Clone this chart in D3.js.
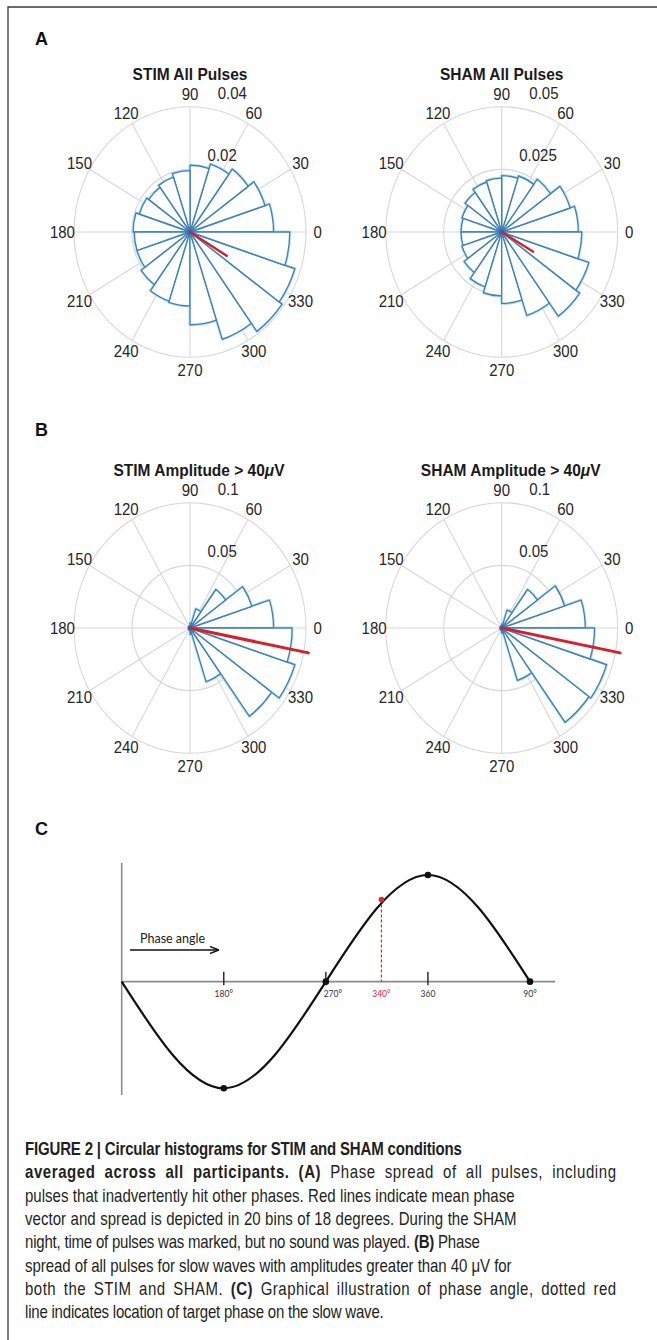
<!DOCTYPE html>
<html>
<head>
<meta charset="utf-8">
<script src="https://cdn.jsdelivr.net/npm/d3@7"></script>
<style>
  html, body { margin: 0; padding: 0; background: #fff; }
  svg { display: block; }
</style>
</head>
<body>
<div class="figure"></div>
<script>
// probability per bin, 20 bins of 18 deg, bin i covers [18*i, 18*(i+1)) ccw from 0
const binWidth = 18;
const stimAll = [0.0288, 0.0272, 0.0248, 0.0228, 0.0213, 0.0196, 0.0184, 0.0176, 0.0184, 0.0196,
                 0.0192, 0.0192, 0.0208, 0.0232, 0.0236, 0.0296, 0.0360, 0.0392, 0.0380, 0.0344];
const shamAll = [0.0330, 0.0310, 0.0260, 0.0235, 0.0225, 0.0215, 0.0210, 0.0195, 0.0180, 0.0175,
                 0.0175, 0.0180, 0.0200, 0.0230, 0.0255, 0.0285, 0.0350, 0.0415, 0.0395, 0.0345];
const stimAmp = [0.072, 0.056, 0.038, 0.016, 0.004, 0, 0, 0, 0, 0,
                 0, 0, 0, 0.001, 0.002, 0.005, 0.045, 0.087, 0.095, 0.088];
const shamAmp = [0.072, 0.057, 0.038, 0.015, 0.003, 0, 0, 0, 0, 0,
                 0, 0, 0, 0.001, 0.002, 0.004, 0.044, 0.093, 0.095, 0.080];

// mean phase vector: [angle in deg, length]
const stimAllMean = [329, 0.0148];
const shamAllMean = [330, 0.0157];
const stimAmpMean = [349, 0.104];
const shamAmpMean = [349, 0.104];

// radial ticks (last one is the outer ring)
const stimAllTicks = [0.02, 0.04];
const shamAllTicks = [0.025, 0.05];
const ampTicks = [0.05, 0.1];
const thetaTicks = [0, 30, 60, 90, 120, 150, 180, 210, 240, 270, 300, 330];

// panel C: slow wave key points (phase in deg, relative amplitude)
const wavePhase = [90, 180, 270, 360, 450];
const waveAmp = [0, -1, 0, 1, 0];
const waveDots = [1, 2, 3, 4];
const phaseTicks = [180, 270, 360];
const phaseLabels = ['180°', '270°', '360', '90°'];
const phaseLabelPos = [180, 270, 360, 450];
const targetLabel = '340°';
const targetPhase = 319, targetAmp = 0.77;

const captionLines = [
  [['FIGURE 2 | Circular histograms for STIM and SHAM conditions', true]],
  [['averaged across all participants. (A)', true], [' Phase spread of all pulses, including', false]],
  [['pulses that inadvertently hit other phases. Red lines indicate mean phase', false]],
  [['vector and spread is depicted in 20 bins of 18 degrees. During the SHAM', false]],
  [['night, time of pulses was marked, but no sound was played. ', false], ['(B)', true], [' Phase', false]],
  [['spread of all pulses for slow waves with amplitudes greater than 40 \u03BCV for', false]],
  [['both the STIM and SHAM. ', false], ['(C)', true], [' Graphical illustration of phase angle, dotted red', false]],
  [['line indicates location of target phase on the slow wave.', false]]
];
const captionWidths = [437, 592, 490, 492, 447, 487, 592, 308];

(function() {
  'use strict';

  let width  = 657,
      height = 1340,
      font   = '"Liberation Sans", Arial, Helvetica, sans-serif',

      svg = d3.select('.figure')
        .append('svg')
        .attr('width', width)
        .attr('height', height)
        .style('font-family', font),

      rad = d => d * Math.PI / 180,

      polar = (cfg) => {
        let R = 116,
            g = svg.append('g')
              .attr('transform', `translate(${cfg.cx},${cfg.cy}) scale(1,1.08)`),
            r = d3.scaleLinear()
              .domain([0, cfg.ticks[cfg.ticks.length - 1]])
              .range([0, R]),
            arc = d3.arc()
              .innerRadius(0)
              .outerRadius(d => r(d.v))
              .startAngle(d => Math.PI / 2 - rad(d.a1))
              .endAngle(d => Math.PI / 2 - rad(d.a0)),
            bins = cfg.bins
              .map((v, i) => ({v: v, a0: i * binWidth, a1: (i + 1) * binWidth}))
              .filter(d => d.v > 0);

        // grid
        g.selectAll('line.spoke')
          .data(thetaTicks)
          .enter()
          .append('line')
          .attr('class', 'spoke')
          .attr('x2', d => R * Math.cos(rad(d)))
          .attr('y2', d => -R * Math.sin(rad(d)))
          .attr('stroke', '#d8d8d8')
          .attr('stroke-width', 1.1);

        g.selectAll('circle.ring')
          .data(cfg.ticks)
          .enter()
          .append('circle')
          .attr('class', 'ring')
          .attr('r', d => r(d))
          .attr('fill', 'none')
          .attr('stroke', '#d8d8d8')
          .attr('stroke-width', 1.1);

        // bars: soft halo then outline
        g.selectAll('path.halo')
          .data(bins)
          .enter()
          .append('path')
          .attr('class', 'halo')
          .attr('d', arc)
          .attr('fill', 'none')
          .attr('stroke', '#b5def4')
          .attr('stroke-width', 3)
          .attr('stroke-linejoin', 'round');

        g.selectAll('path.bar')
          .data(bins)
          .enter()
          .append('path')
          .attr('class', 'bar')
          .attr('d', arc)
          .attr('fill', '#fff')
          .attr('fill-opacity', 0.85)
          .attr('stroke', '#4080b4')
          .attr('stroke-width', 1.3)
          .attr('stroke-linejoin', 'round');

        g.append('circle')
          .attr('r', 2.5)
          .attr('fill', '#2f6fa6');

        // mean vector
        g.append('line')
          .attr('x2', r(cfg.mean[1]) * Math.cos(rad(cfg.mean[0])))
          .attr('y2', -r(cfg.mean[1]) * Math.sin(rad(cfg.mean[0])))
          .attr('stroke', '#d81e2a')
          .attr('stroke-width', cfg.meanWidth)
          .attr('stroke-linecap', 'round');

        // theta labels
        g.selectAll('text.theta')
          .data(thetaTicks)
          .enter()
          .append('text')
          .attr('class', 'theta')
          .attr('x', d => 1.1 * R * Math.cos(rad(d)))
          .attr('y', d => -1.1 * R * Math.sin(rad(d)))
          .attr('dy', '0.36em')
          .attr('text-anchor', 'middle')
          .attr('font-size', 15)
          .attr('fill', '#262626')
          .text(d => d);

        // r labels, MATLAB style along 80 deg
        g.selectAll('text.rlab')
          .data(cfg.ticks)
          .enter()
          .append('text')
          .attr('class', 'rlab')
          .attr('x', d => r(d) * Math.cos(rad(80)) + 7.5)
          .attr('y', d => -r(d) * Math.sin(rad(80)) - 8.5)
          .attr('font-size', 15)
          .attr('fill', '#262626')
          .text(d => String(d));

        // title
        let t = g.append('text')
          .attr('x', cfg.titleDx)
          .attr('y', -141)
          .attr('text-anchor', 'middle')
          .attr('font-size', 15.5)
          .attr('font-weight', 'bold')
          .attr('fill', '#1a1a1a');
        t.append('tspan').text(cfg.title);
        if (cfg.mu) {
          t.append('tspan').attr('font-style', 'italic').text('\u03BC');
          t.append('tspan').text('V');
        }
      };

  // frame
  svg.append('path')
    .attr('d', `M8,${height} V7 H${width}`)
    .attr('fill', 'none')
    .attr('stroke', '#3a3a3a')
    .attr('stroke-width', 1.3);

  // panel letters
  svg.selectAll('text.letter')
    .data([['A', 45], ['B', 436], ['C', 835]])
    .enter()
    .append('text')
    .attr('class', 'letter')
    .attr('x', 35)
    .attr('y', d => d[1])
    .attr('font-size', 18)
    .attr('font-weight', 'bold')
    .attr('fill', '#111')
    .text(d => d[0]);

  polar({cx: 190, cy: 232, bins: stimAll, ticks: stimAllTicks, mean: stimAllMean, meanWidth: 2.2,
         title: 'STIM All Pulses', titleDx: 0});
  polar({cx: 501.7, cy: 232, bins: shamAll, ticks: shamAllTicks, mean: shamAllMean, meanWidth: 2.2,
         title: 'SHAM All Pulses', titleDx: 0});
  polar({cx: 190, cy: 628, bins: stimAmp, ticks: ampTicks, mean: stimAmpMean, meanWidth: 2.8,
         title: 'STIM Amplitude > 40', titleDx: 9, mu: true});
  polar({cx: 501.7, cy: 628, bins: shamAmp, ticks: ampTicks, mean: shamAmpMean, meanWidth: 2.8,
         title: 'SHAM Amplitude > 40', titleDx: 9, mu: true});

  // ---- panel C: phase illustration ----
  let x = d3.scaleLinear().domain([90, 450]).range([121.7, 530]),
      y = d3.scaleLinear().domain([-1, 1]).range([1088.3, 875]),
      c = svg.append('g'),
      small = 'Lato, "Open Sans", sans-serif',
      wave = wavePhase.map((p, i) => [p, waveAmp[i]]);

  c.append('line')
    .attr('x1', x(90)).attr('x2', x(90))
    .attr('y1', 863).attr('y2', 1095)
    .attr('stroke', '#8a8a8a').attr('stroke-width', 1.6);

  c.append('line')
    .attr('x1', x(90)).attr('x2', 555)
    .attr('y1', y(0)).attr('y2', y(0))
    .attr('stroke', '#8a8a8a').attr('stroke-width', 1.6);

  c.selectAll('line.ptick')
    .data(phaseTicks)
    .enter()
    .append('line')
    .attr('class', 'ptick')
    .attr('x1', d => x(d)).attr('x2', d => x(d))
    .attr('y1', y(0) - 10).attr('y2', y(0) + 3.5)
    .attr('stroke', '#222').attr('stroke-width', 1.4);

  c.append('path')
    .datum(wave)
    .attr('d', d3.line().x(d => x(d[0])).y(d => y(d[1])).curve(d3.curveNatural))
    .attr('fill', 'none')
    .attr('stroke', '#111')
    .attr('stroke-width', 2.2);

  c.selectAll('circle.dot')
    .data(waveDots.map(i => wave[i]))
    .enter()
    .append('circle')
    .attr('class', 'dot')
    .attr('cx', d => x(d[0]))
    .attr('cy', d => y(d[1]))
    .attr('r', 3.3)
    .attr('fill', '#111');

  // target phase
  c.append('line')
    .attr('x1', x(targetPhase)).attr('x2', x(targetPhase))
    .attr('y1', y(targetAmp)).attr('y2', y(0))
    .attr('stroke', '#e0262c').attr('stroke-width', 1.2)
    .attr('stroke-dasharray', '3,2');

  c.append('circle')
    .attr('cx', x(targetPhase)).attr('cy', y(targetAmp))
    .attr('r', 2.8).attr('fill', '#e0262c');

  c.selectAll('text.plab')
    .data(phaseLabels)
    .enter()
    .append('text')
    .attr('class', 'plab')
    .attr('x', (d, i) => x(phaseLabelPos[i]) + (d === '270°' ? 7 : 0))
    .attr('y', 996.5)
    .attr('text-anchor', 'middle')
    .attr('font-family', small)
    .attr('font-size', 8.5)
    .attr('fill', '#333')
    .text(d => d);

  c.append('text')
    .attr('x', x(targetPhase))
    .attr('y', 996.5)
    .attr('text-anchor', 'middle')
    .attr('font-family', small)
    .attr('font-size', 8.5)
    .attr('fill', '#e0262c')
    .text(targetLabel);

  // "Phase angle" arrow
  svg.append('defs')
    .append('marker')
    .attr('id', 'head')
    .attr('viewBox', '0 0 10 10')
    .attr('refX', 9).attr('refY', 5)
    .attr('markerWidth', 6).attr('markerHeight', 6)
    .attr('orient', 'auto')
    .append('path')
    .attr('d', 'M0,1 L10,5 L0,9')
    .attr('fill', 'none')
    .attr('stroke', '#111')
    .attr('stroke-width', 1.5);

  c.append('line')
    .attr('x1', 130).attr('x2', 218)
    .attr('y1', 950).attr('y2', 950)
    .attr('stroke', '#111').attr('stroke-width', 1.5)
    .attr('marker-end', 'url(#head)');

  c.append('text')
    .attr('x', 140).attr('y', 943)
    .attr('font-family', small)
    .attr('font-size', 12.5)
    .attr('fill', '#222')
    .text('Phase angle');

  // ---- caption: common horizontal squeeze, extra width spread over word and letter gaps ----
  let cap = svg.append('g'),
      texts = captionLines.map((line, i) => {
        let t = cap.append('text')
          .attr('font-family', '"Liberation Sans Narrow", "Liberation Sans", Arial, sans-serif')
          .attr('font-size', 18)
          .attr('fill', '#231f20');
        line.forEach(seg => {
          t.append('tspan')
            .attr('font-weight', seg[1] ? 'bold' : 'normal')
            .text(seg[0]);
        });
        return t;
      }),
      natural = texts.map(t => t.node().getComputedTextLength()),
      k = d3.median(natural, (w, i) => captionWidths[i] / w);

  texts.forEach((t, i) => {
    let str = captionLines[i].map(seg => seg[0]).join(''),
        n = str.length,
        spaces = str.split(' ').length - 1,
        extra = Math.max(-0.25 * n, captionWidths[i] / k - natural[i]),
        ls = extra > 0 ? extra * 0.5 / n : extra / n,
        ws = extra > 0 ? extra * 0.5 / spaces : 0;
    t.attr('letter-spacing', ls.toFixed(3))
      .attr('word-spacing', ws.toFixed(3))
      .attr('transform', `translate(25,${1155 + i * 23.3}) scale(${k},1)`);
  });

})();
</script>
</body>
</html>
